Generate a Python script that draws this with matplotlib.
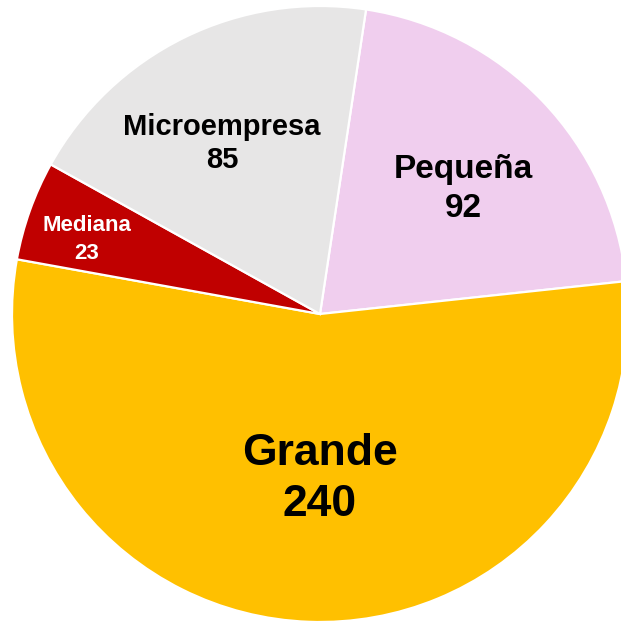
import matplotlib
matplotlib.use("Agg")
import matplotlib.pyplot as plt

# data
categories = ["Pequeña", "Grande", "Mediana", "Microempresa"]
values = [92, 240, 23, 85]
colors = ["#F0CEEE", "#FFC000", "#C00000", "#E7E6E6"]
text_colors = ["black", "black", "white", "black"]
font_sizes = [24, 32, 16, 21]

# label baselines in pixel units (x center, name baseline, value baseline)
label_px = [(463, 178, 217), (320, 465, 516), (87, 231, 259), (222, 135, 168)]

plt.rcParams['font.family'] = ['Liberation Sans', 'DejaVu Sans']

W, H = 621, 633
cx, cy, R = 320, 314, 308

fig = plt.figure(figsize=(W / 100, H / 100), dpi=100)
ax = fig.add_axes([0, 0, 1, 1])

ax.pie(values, colors=colors, startangle=81.4, counterclock=False,
       radius=1.0, wedgeprops=dict(edgecolor="white", linewidth=1.6))

def to_data(px, py):
  return (px - cx) / R, (cy - py) / R

for cat, val, tc, fs, (px, py1, py2) in zip(categories, values, text_colors, font_sizes, label_px):
  x, y1 = to_data(px, py1)
  x, y2 = to_data(px, py2)
  ax.text(x, y1, cat, ha="center", va="baseline", color=tc, fontsize=fs, fontweight="bold")
  ax.text(x, y2, str(val), ha="center", va="baseline", color=tc, fontsize=fs, fontweight="bold")

ax.set_xlim(-cx / R, (W - cx) / R)
ax.set_ylim((cy - H) / R, cy / R)
ax.set_aspect("auto")
ax.axis("off")

fig.savefig("out.png", dpi=100)
